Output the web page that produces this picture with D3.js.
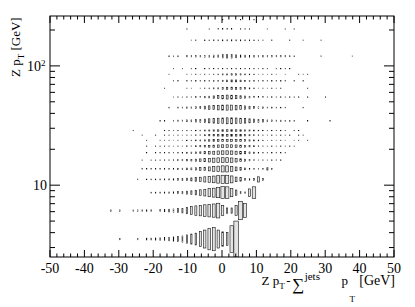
<!DOCTYPE html>
<html>
<head>
<meta charset="utf-8">
<script src="https://cdn.jsdelivr.net/npm/d3@7"></script>
<style>
  body { margin: 0; background: #fff; }
</style>
</head>
<body>
<div id="chart"></div>
<script>
// x bins: 1.3 GeV wide, bin k is centred at xBinOrigin + k * xBinWidth
const xBinWidth = 1.3;
const xBinOrigin = 0.2;
// y bin edges (Z pT, GeV)
const yEdges = [2.5, 5, 7.5, 10, 12.5, 15, 17.5, 20, 22.5, 25, 27.5, 30,
                40, 50, 60, 70, 80, 90, 100, 145, 185, 225, 265];

// one array per Z pT bin: first x bin index, then the cell contents
const row00 = [-23, [4,0,0,0,4,0,5,5,6,7,8,10,12,14,17,23,28,33,42,50,60,65,50,40,36,74,100]];
const row01 = [-25, [6,0,6,0,0,6,6,7,7,8,0,9,11,13,15,18,22,30,38,45,50,55,60,63,70,48,25,25,48,87,67]];
const row02 = [-16, [6,6,7,8,9,11,13,16,20,25,30,38,45,55,60,68,80,78,55,35,15,10,50,78]];
const row03 = [-19, [5,0,6,6,7,8,9,10,12,14,17,21,26,32,38,45,52,58,65,72,72,60,40,30,15,12,15,45,15]];
const row04 = [-18, [5,5,6,6,7,8,9,10,12,14,17,20,24,29,35,42,50,58,65,65,55,40,28,18,12,9,8,10,25,8]];
const row05 = [-18, [5,0,6,6,7,8,9,10,12,14,17,21,26,32,38,45,52,58,62,62,56,45,35,25,17,12,9,8,7,7,10,8]];
const row06 = [-17, [5,0,6,6,7,8,9,10,12,14,17,21,26,32,38,44,50,54,55,52,45,38,30,22,16,12,9,8,7,7,6,8]];
const row07 = [-17, [4,0,5,5,5,6,7,8,9,11,13,16,20,25,30,36,42,46,48,47,42,36,29,22,16,12,9,8,7,6,5,5,6,5]];
const row08 = [-17, [4,0,0,5,5,6,6,7,8,10,12,14,17,21,26,31,36,40,42,42,39,34,28,22,17,13,10,8,7,6,5,5,0,5,5,0,5]];
const row09 = [-18, [4,0,0,4,0,5,5,6,6,7,9,11,13,16,20,24,28,32,36,38,38,36,32,27,22,17,13,10,8,7,6,5,5,5,0,4,4]];
const row10 = [-20, [4,0,0,0,0,0,0,5,5,6,7,8,9,11,13,16,19,23,27,31,34,36,36,34,31,27,22,18,14,11,9,7,6,5,5,0,4,4]];
const row11 = [-14, [6,6,0,8,9,10,12,14,16,19,23,27,31,35,38,40,40,38,35,31,27,23,19,16,13,11,9,8,7,6,6,0,0,5,0,0,0,0,5]];
const row12 = [-12, [6,0,8,9,10,12,15,19,24,30,35,40,43,44,43,40,35,29,23,18,14,11,9,8,7,6,6,0,0,0,5]];
const row13 = [-11, [5,6,6,7,8,10,12,15,19,25,32,38,42,40,35,28,22,17,13,11,9,8,7,6,6,5,5,5,5,0,4,0,0,0,4]];
const row14 = [-13, [4,0,0,0,0,5,5,0,6,7,9,12,16,22,28,30,27,22,17,13,10,8,7,6,6,5,5,0,0,0,0,0,4]];
const row15 = [-11, [4,4,0,5,5,5,5,6,8,10,14,19,24,28,27,23,18,14,11,9,7,6,6,5,5,5,0,4,0,4]];
const row16 = [-12, [4,0,0,0,5,5,5,6,6,7,9,12,16,20,23,22,19,15,12,10,8,7,6,5,5,0,4,0,0,4,4,4]];
const row17 = [-11, [4,0,4,0,4,4,0,5,5,6,7,8,9,10,10,9,8,7,6,6,5,5,0,4,4,4,4]];
const row18 = [-12, [5,5,5,0,6,7,7,8,9,10,12,14,17,20,19,16,13,11,10,9,8,8,7,7,6,6,6,5,5,0,0,0,0,0,4,0,0,0,0,0,0,4]];
const row19 = [-7, [5,5,0,6,6,7,7,8,9,9,8,8,7,7,6,6,5,0,5,0,0,0,5,0,0,5,0,0,0,5]];
const row20 = [-8, [5,0,0,0,0,5,0,6,6,6,6,0,5,5,5,0,0,0,5,0,0,0,5,0,5]];
const row21 = [0, [5,0,0,0,5,0,5,5,0,5]];
const rows = [row00, row01, row02, row03, row04, row05, row06, row07, row08, row09, row10,
              row11, row12, row13, row14, row15, row16, row17, row18, row19, row20, row21];

const xTicks = [-50, -40, -30, -20, -10, 0, 10, 20, 30, 40, 50];
const yMajor = [10, 100];
const yMinor = [3, 4, 5, 6, 7, 8, 9, 20, 30, 40, 50, 60, 70, 80, 90, 200];

const width = 415;
const height = 307;
const margin = {left: 50, right: 21, top: 16, bottom: 50};
const x = d3.scaleLinear().domain([-50, 50]).range([margin.left, width - margin.right]);
const y = d3.scaleLog().domain([2.5, 262]).range([height - margin.bottom, margin.top]);

const svg = d3.select('#chart')
  .append('svg')
  .attr('width', width)
  .attr('height', height)
  .attr('font-family', '"Liberation Serif", Tinos, "Times New Roman", "Noto Serif", "DejaVu Serif", "Liberation Sans", Arial, sans-serif');

svg.append('clipPath')
  .attr('id', 'frame')
  .append('rect')
  .attr('x', margin.left)
  .attr('y', margin.top)
  .attr('width', width - margin.left - margin.right)
  .attr('height', height - margin.top - margin.bottom);

const cells = [];
rows.forEach((r, i) => {
  r[1].forEach((v, j) => {
    if (v > 0) cells.push({lo: yEdges[i], hi: yEdges[i + 1], k: r[0] + j, v: v});
  });
});
const zmax = d3.max(cells, d => d.v);
const bw = x(xBinWidth) - x(0);
const boxW = d => Math.max(0.4, bw * d.v / zmax);
const boxH = d => Math.max(0.5, (y(d.lo) - y(d.hi)) * d.v / zmax);

svg.append('g')
  .attr('clip-path', 'url(#frame)')
  .selectAll('rect')
  .data(cells)
  .join('rect')
  .attr('x', d => x(xBinOrigin + d.k * xBinWidth) - boxW(d) / 2)
  .attr('y', d => (y(d.lo) + y(d.hi)) / 2 - boxH(d) / 2)
  .attr('width', boxW)
  .attr('height', boxH)
  .attr('fill', '#e4e4e4')
  .attr('stroke', '#111')
  .attr('stroke-width', 0.6);

// ticks
const axes = svg.append('g').attr('stroke', '#000').attr('stroke-width', 1);
const b = height - margin.bottom, t = margin.top;
const l = margin.left, r = width - margin.right;
const xAll = d3.range(-50, 51, 2);
axes.selectAll('.xt')
  .data(xAll)
  .join('line')
  .attr('x1', d => x(d)).attr('x2', d => x(d))
  .attr('y1', b).attr('y2', d => b - (d % 10 === 0 ? 7 : 3.5));
axes.selectAll('.xtt')
  .data(xAll)
  .join('line')
  .attr('x1', d => x(d)).attr('x2', d => x(d))
  .attr('y1', t).attr('y2', d => t + (d % 10 === 0 ? 7 : 3.5));
const yAll = yMajor.map(v => [v, 10]).concat(yMinor.map(v => [v, 5]));
axes.selectAll('.yt')
  .data(yAll)
  .join('line')
  .attr('x1', l).attr('x2', d => l + d[1])
  .attr('y1', d => y(d[0])).attr('y2', d => y(d[0]));
axes.selectAll('.ytr')
  .data(yAll)
  .join('line')
  .attr('x1', r).attr('x2', d => r - d[1])
  .attr('y1', d => y(d[0])).attr('y2', d => y(d[0]));

svg.append('rect')
  .attr('x', l).attr('y', t)
  .attr('width', r - l).attr('height', b - t)
  .attr('fill', 'none')
  .attr('stroke', '#000')
  .attr('stroke-width', 1);

// tick labels
svg.append('g')
  .selectAll('text')
  .data(xTicks)
  .join('text')
  .attr('x', d => x(d))
  .attr('y', b + 15.5)
  .attr('text-anchor', 'middle')
  .attr('font-size', 14)
  .text(d => d);

svg.append('text')
  .attr('x', 47)
  .attr('y', y(10) + 5)
  .attr('text-anchor', 'end')
  .attr('font-size', 14)
  .text('10');
const e2 = svg.append('text')
  .attr('x', 45.5)
  .attr('y', y(100) + 5)
  .attr('text-anchor', 'end')
  .attr('font-size', 14);
e2.append('tspan').text('10');
e2.append('tspan').attr('dy', -5).attr('font-size', 9).text('2');

// axis titles
const yt = svg.append('text')
  .attr('transform', 'translate(20,77) rotate(-90)')
  .attr('font-size', 13);
yt.append('tspan').text('Z p');
yt.append('tspan').attr('dy', 4).attr('font-size', 9).text('T');
yt.append('tspan').attr('dy', -4).text(' [GeV]');

const xt = svg.append('text').attr('x', 261.5).attr('y', 285).attr('font-size', 13);
xt.append('tspan').text('Z p');
xt.append('tspan').attr('dy', 4).attr('font-size', 9).text('T');
xt.append('tspan').attr('dy', -4).attr('dx', 1.5).text('-');
xt.append('tspan').attr('dy', 5).attr('dx', 1.5).attr('font-size', 17).text('\u2211');
xt.append('tspan').attr('dy', -10).attr('dx', 0.5).attr('font-size', 11).text('jets');
svg.append('text').attr('x', 341.5).attr('y', 285).attr('font-size', 13).text('p');
svg.append('text').attr('x', 349.5).attr('y', 302).attr('font-size', 9).text('T');
svg.append('text').attr('x', 395).attr('y', 285).attr('text-anchor', 'end').attr('font-size', 14).text('[GeV]');
</script>
</body>
</html>
